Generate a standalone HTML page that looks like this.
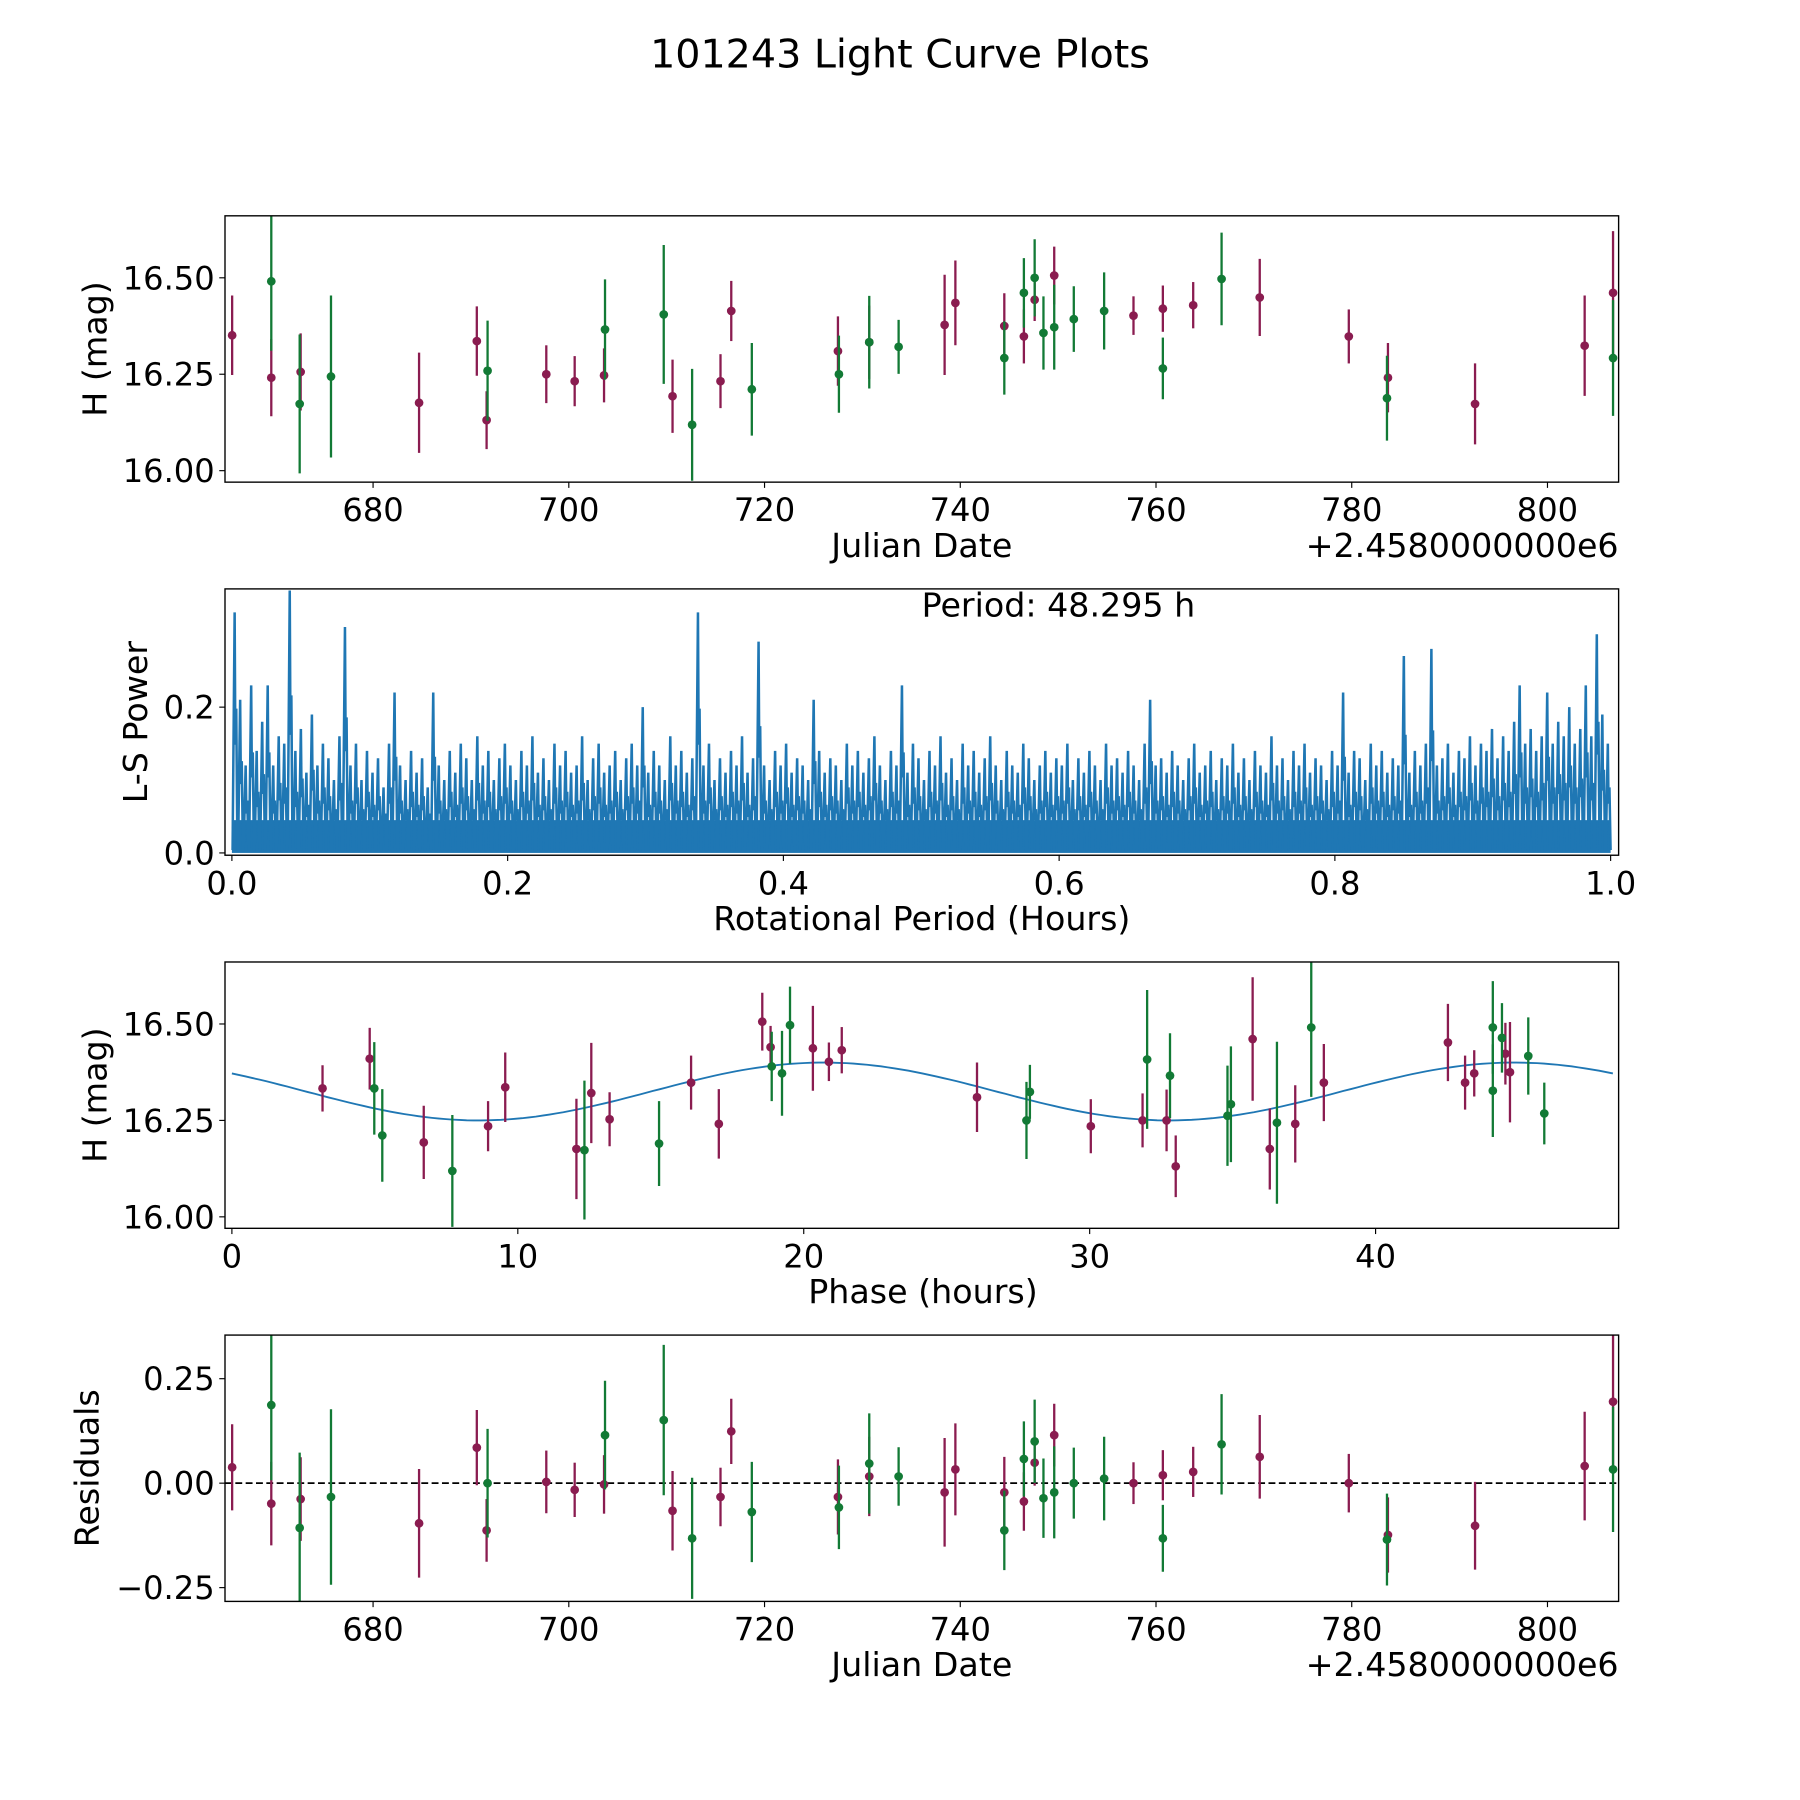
<!DOCTYPE html>
<html><head><meta charset="utf-8"><style>
html,body{margin:0;padding:0;background:#fff}
svg{display:block}
text{font-family:"DejaVu Sans","Liberation Sans",sans-serif;fill:#000}
</style></head><body>
<svg id="fig" xmlns="http://www.w3.org/2000/svg" width="1800" height="1800" viewBox="0 0 1568 1568">
<rect width="1568" height="1568" fill="#fff"/>
<text x="784" y="59" font-size="34.5" text-anchor="middle">101243 Light Curve Plots</text>
<g id="g"></g>
</svg>
<script>
// ---- Panel 1: light curve data ----
const magDates = [665.6,669.6,672.6,684.7,690.6,691.6,697.7,700.6,703.6,710.6,715.5,716.6,727.5,730.7,738.4,739.5,744.5,746.5,747.6,749.6,757.7,760.7,763.8,770.6,779.7,783.7,792.6,803.8,806.7];
const magMags = [16.351,16.241,16.256,16.176,16.336,16.131,16.25,16.232,16.247,16.193,16.232,16.414,16.31,16.333,16.378,16.435,16.375,16.348,16.443,16.506,16.402,16.42,16.429,16.449,16.348,16.241,16.173,16.324,16.461];
const magErrs = [0.103,0.1,0.1,0.13,0.09,0.075,0.075,0.065,0.07,0.095,0.07,0.078,0.09,0.095,0.13,0.11,0.085,0.07,0.055,0.075,0.05,0.06,0.06,0.1,0.07,0.09,0.105,0.13,0.16];
const grnDates = [669.6,672.5,675.7,691.7,703.7,709.7,712.6,718.7,727.6,730.7,733.7,744.5,746.5,747.6,748.5,749.6,751.6,754.7,760.7,766.7,783.6,806.7];
const grnMags = [16.491,16.173,16.244,16.259,16.366,16.405,16.119,16.211,16.25,16.333,16.321,16.292,16.461,16.5,16.357,16.372,16.393,16.414,16.265,16.497,16.188,16.292];
const grnErrs = [0.18,0.18,0.21,0.13,0.13,0.18,0.145,0.12,0.1,0.12,0.07,0.095,0.09,0.1,0.095,0.11,0.085,0.1,0.08,0.12,0.11,0.15];
// ---- Panel 2: periodogram peaks (period step 0.004 from 0.002) ----
const lsPeriodStart = 0.002, lsPeriodStep = 0.004;
const lsPowers = [
0.33,0.21,0.12,0.23,0.14,0.18,0.23,0.12,0.16,0.15,
0.36,0.14,0.17,0.11,0.19,0.12,0.15,0.13,0.1,0.16,
0.31,0.12,0.15,0.1,0.14,0.11,0.13,0.09,0.15,0.22,
0.12,0.1,0.14,0.11,0.13,0.09,0.22,0.12,0.1,0.14,
0.11,0.15,0.13,0.1,0.16,0.12,0.14,0.1,0.13,0.15,
0.12,0.1,0.14,0.12,0.16,0.11,0.13,0.1,0.15,0.12,
0.14,0.11,0.12,0.16,0.1,0.13,0.15,0.11,0.12,0.14,
0.1,0.13,0.15,0.12,0.2,0.11,0.14,0.12,0.1,0.16,
0.12,0.14,0.11,0.13,0.33,0.12,0.15,0.1,0.13,0.11,
0.14,0.12,0.16,0.11,0.13,0.29,0.12,0.1,0.14,0.12,
0.15,0.11,0.13,0.12,0.1,0.21,0.14,0.11,0.13,0.12,
0.1,0.15,0.12,0.14,0.11,0.13,0.16,0.12,0.1,0.14,
0.12,0.23,0.11,0.15,0.13,0.1,0.14,0.12,0.16,0.11,
0.13,0.1,0.15,0.12,0.14,0.11,0.13,0.16,0.12,0.1,
0.14,0.12,0.11,0.15,0.13,0.1,0.12,0.14,0.11,0.13,
0.12,0.15,0.1,0.13,0.11,0.14,0.12,0.1,0.15,0.12,
0.13,0.11,0.14,0.12,0.1,0.15,0.21,0.12,0.13,0.11,
0.14,0.12,0.1,0.13,0.15,0.11,0.12,0.14,0.1,0.13,
0.12,0.15,0.11,0.13,0.1,0.14,0.12,0.11,0.16,0.12,
0.13,0.1,0.14,0.12,0.15,0.11,0.13,0.12,0.1,0.14,
0.12,0.22,0.11,0.14,0.13,0.1,0.15,0.12,0.14,0.11,
0.13,0.12,0.27,0.11,0.14,0.12,0.15,0.28,0.12,0.13,
0.15,0.11,0.14,0.13,0.16,0.12,0.15,0.14,0.17,0.13,
0.16,0.14,0.18,0.23,0.15,0.17,0.14,0.16,0.22,0.15,
0.18,0.16,0.2,0.15,0.17,0.23,0.16,0.3,0.19,0.15];
const lsNoiseFloor = [0.045];
// ---- Panel 3: phased data ----
const magPhase = [3.17,4.82,6.71,8.96,9.56,12.05,12.57,13.21,16.06,17.03,18.55,18.84,20.32,20.88,21.33,26.06,30.04,31.85,32.69,33.01,35.7,36.3,37.19,38.19,42.53,43.13,43.45,44.54,44.7];
const magPhaseMag = [16.333,16.41,16.193,16.235,16.336,16.176,16.321,16.253,16.348,16.241,16.506,16.44,16.437,16.402,16.432,16.31,16.235,16.25,16.25,16.131,16.461,16.176,16.241,16.348,16.452,16.348,16.372,16.423,16.375];
const magPhaseErr = [0.06,0.08,0.095,0.065,0.09,0.13,0.13,0.07,0.07,0.09,0.075,0.055,0.11,0.05,0.06,0.09,0.07,0.07,0.08,0.08,0.16,0.105,0.1,0.1,0.1,0.07,0.06,0.08,0.13];
const grnPhase = [4.98,5.26,7.71,12.33,14.94,18.88,19.24,19.52,27.79,27.91,32.01,32.81,34.82,34.94,36.55,37.75,44.1,44.1,44.42,45.34,45.9];
const grnPhaseMag = [16.333,16.211,16.119,16.173,16.19,16.39,16.372,16.497,16.25,16.324,16.408,16.366,16.262,16.292,16.244,16.491,16.327,16.491,16.464,16.417,16.268];
const grnPhaseErr = [0.12,0.12,0.145,0.18,0.11,0.09,0.11,0.1,0.1,0.07,0.18,0.11,0.13,0.15,0.21,0.18,0.12,0.12,0.09,0.1,0.08];
const fitMean = [16.325], fitAmp = [0.075], fitPeak = [20.7], fitPeriod = [24.15];
// ---- Panel 4: residuals ----
const magRes = [0.038,-0.049,-0.038,-0.096,0.085,-0.113,0.003,-0.016,-0.003,-0.066,-0.033,0.124,-0.033,0.016,-0.022,0.033,-0.022,-0.044,0.049,0.115,0,0.019,0.027,0.063,0,-0.124,-0.102,0.041,0.195];
const grnRes = [0.187,-0.107,-0.033,0,0.115,0.151,-0.132,-0.069,-0.058,0.047,0.016,-0.113,0.058,0.1,-0.036,-0.022,0,0.011,-0.132,0.093,-0.135,0.033];
const dateTicks = [680,700,720,740,760,780,800];
const magTicks = [16.00,16.25,16.50];
const lsXTicks = [0.0,0.2,0.4,0.6,0.8,1.0];
const lsYTicks = [0.0,0.2];
const phaseTicks = [0,10,20,30,40];
const resTicks = [-0.25,0,0.25];

const NS='http://www.w3.org/2000/svg';
const G=document.getElementById('g');
function el(tag,attrs,parent,txt){const e=document.createElementNS(NS,tag);for(const k in attrs)e.setAttribute(k,attrs[k]);if(txt!==undefined)e.textContent=txt;(parent||G).appendChild(e);return e;}
const MAG='#8a1c50', GRN='#127a35', BLUE='#1f77b4';
const L=196,R=1410;
const TF=28, LF=29;
function lin(d0,d1,r0,r1){return v=>r0+(v-d0)*(r1-r0)/(d1-d0);}
const xDate=lin(664.87,807.27,L,R);
const xLS=lin(-0.005,1.0058,L,R);
const xPh=lin(-0.241,48.5,L,R);

function frame(name,top,bot){
  const r=el('rect',{x:L,y:top,width:R-L,height:bot-top,fill:'none',stroke:'#000','stroke-width':1.2});
  
  
}
function xticks(name,ticks,xs,bot,fmt){
  ticks.forEach(t=>{const x=xs(t);
    el('line',{x1:x,x2:x,y1:bot,y2:bot+5,stroke:'#000','stroke-width':1});
    const tx=el('text',{x:x,y:bot+34,'font-size':TF,'text-anchor':'middle'},G,fmt(t));
    
    
  });
}
function yticks(name,ticks,ys,fmt){
  ticks.forEach(t=>{const y=ys(t);
    el('line',{x1:L-5,x2:L,y1:y,y2:y,stroke:'#000','stroke-width':1});
    const tx=el('text',{x:L-9,y:y+10,'font-size':TF,'text-anchor':'end'},G,fmt(t));
    
    
  });
}
function label(name,txt,x,y,rot){
  const a={x:x,y:y,'font-size':LF,'text-anchor':'middle'};
  if(rot)a.transform='rotate(-90 '+x+' '+y+')';
  const t=el('text',a,G,txt);
  
  
}
function errptsG(g,name,xs,ys,es,xf,yf,color){
  xs.forEach((v,i)=>{
    const x=xf(v);
    const ln=el('line',{x1:x,x2:x,y1:yf(ys[i]+es[i]),y2:yf(ys[i]-es[i]),stroke:color,'stroke-width':2},g);
    
    
    const c=el('circle',{cx:x,cy:yf(ys[i]),r:3.8,fill:color},g);
    
    
  });
}
const f2=t=>t.toFixed(2), f1=t=>t.toFixed(1), f0=t=>String(t);
const fres=t=>(t<0?'\u2212':'')+Math.abs(t).toFixed(2);

const defs=el('defs',{});
[[188,420],[513,745],[838,1070],[1163,1395]].forEach((p,i)=>{const cp=el('clipPath',{id:'c'+i},defs);el('rect',{x:L,y:p[0],width:R-L,height:p[1]-p[0]},cp);});

// Panel 1
const y1=lin(16.0,16.5,410,242);
const g1=el('g',{'clip-path':'url(#c0)'});


errptsG(g1,'magenta-filter',magDates,magMags,magErrs,xDate,y1,MAG);
errptsG(g1,'green-filter',grnDates,grnMags,grnErrs,xDate,y1,GRN);
frame('light-curve',188,420);
xticks('light-curve',dateTicks,xDate,420,f0);
yticks('light-curve',magTicks,y1,f2);
label('light-curve-x-axis-title','Julian Date',803,485);
{const t=el('text',{x:R,y:485,'font-size':LF,'text-anchor':'end'},G,'+2.4580000000e6');}
label('light-curve-y-axis-title','H (mag)',93,304,true);

// Panel 2
const y2=lin(0,0.2,743,616);
const g2=el('g',{'clip-path':'url(#c1)'});


el('rect',{x:xLS(0),y:y2(lsNoiseFloor[0]),width:xLS(1)-xLS(0),height:y2(0)-y2(lsNoiseFloor[0]),fill:BLUE},g2);
let d='';
lsPowers.forEach((p,i)=>{
  const per=lsPeriodStart+i*lsPeriodStep;
  const x=xLS(per);
  d+=(i?'L':'M')+(x-1.8).toFixed(1)+','+y2(0.004).toFixed(1)+'L'+x.toFixed(1)+','+y2(p).toFixed(1)+'L'+(x+0.6).toFixed(1)+','+y2(p*0.45).toFixed(1)+'L'+(x+1.4).toFixed(1)+','+y2(p*0.6).toFixed(1)+'L'+(x+2.4).toFixed(1)+','+y2(0.004).toFixed(1);
});
el('path',{d:d,fill:'none',stroke:BLUE,'stroke-width':2.2,'stroke-linejoin':'miter'},g2);
frame('periodogram',513,745);
xticks('periodogram',lsXTicks,xLS,745,f1);
yticks('periodogram',lsYTicks,y2,f1);
label('periodogram-x-axis-title','Rotational Period (Hours)',803,810);
label('periodogram-y-axis-title','L-S Power',128,629,true);
{const t=el('text',{x:922,y:537,'font-size':LF,'text-anchor':'middle'},G,'Period: 48.295 h');}

// Panel 3
const y3=lin(16.0,16.5,1060,892);
const g3=el('g',{'clip-path':'url(#c2)'});


let fd='';
for(let k=0;k<=200;k++){const ph=k*48.3/200;const m=fitMean[0]+fitAmp[0]*Math.cos(2*Math.PI*(ph-fitPeak[0])/fitPeriod[0]);fd+=(k?'L':'M')+xPh(ph).toFixed(1)+','+y3(m).toFixed(1);}
const fit=el('path',{d:fd,fill:'none',stroke:BLUE,'stroke-width':1.6},g3);


errptsG(g3,'magenta-phased',magPhase,magPhaseMag,magPhaseErr,xPh,y3,MAG);
errptsG(g3,'green-phased',grnPhase,grnPhaseMag,grnPhaseErr,xPh,y3,GRN);
frame('phase',838,1070);
xticks('phase',phaseTicks,xPh,1070,f0);
yticks('phase',magTicks,y3,f2);
label('phase-x-axis-title','Phase (hours)',804,1135);
label('phase-y-axis-title','H (mag)',93,954,true);

// Panel 4
const y4=lin(0,0.25,1292,1201);
const g4=el('g',{'clip-path':'url(#c3)'});


const zl=el('line',{x1:L,x2:R,y1:y4(0),y2:y4(0),stroke:'#000','stroke-width':1.5,'stroke-dasharray':'6,3'},g4);


errptsG(g4,'magenta-residual',magDates,magRes,magErrs,xDate,y4,MAG);
errptsG(g4,'green-residual',grnDates,grnRes,grnErrs,xDate,y4,GRN);
frame('residuals',1163,1395);
xticks('residuals',dateTicks,xDate,1395,f0);
yticks('residuals',resTicks,y4,fres);
label('residuals-x-axis-title','Julian Date',803,1460);
{const t=el('text',{x:R,y:1460,'font-size':LF,'text-anchor':'end'},G,'+2.4580000000e6');}
label('residuals-y-axis-title','Residuals',86,1279,true);
</script>
</body></html>
